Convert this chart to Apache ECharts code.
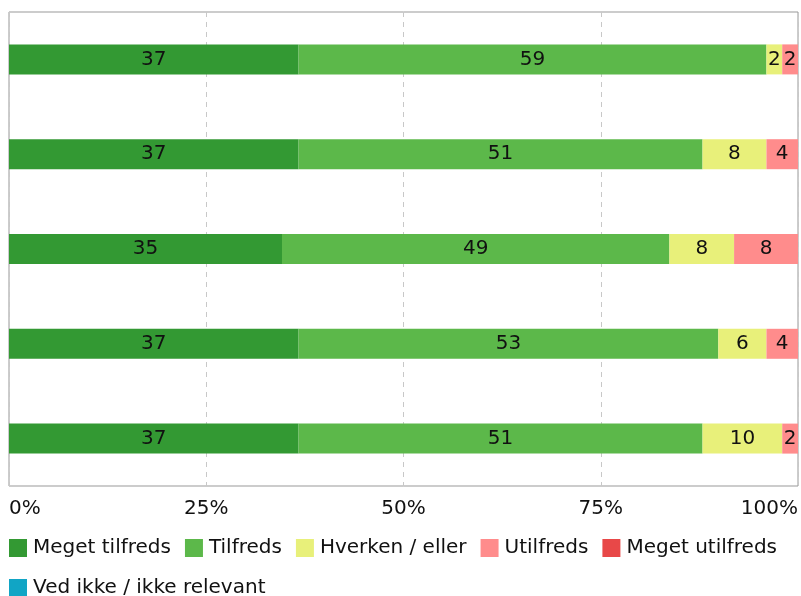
<!DOCTYPE html>
<html>
<head>
<meta charset="utf-8">
<script src="https://cdn.jsdelivr.net/npm/echarts@6/dist/echarts.min.js"></script>
<style>html,body{margin:0;padding:0;background:#fff;}#c{width:801px;height:596px;}</style>
</head>
<body>
<div id="c"></div>
<script>
const categories = ['1', '2', '3', '4', '5'];
const seriesNames = ['Meget tilfreds', 'Tilfreds', 'Hverken / eller', 'Utilfreds', 'Meget utilfreds', 'Ved ikke / ikke relevant'];
const megetTilfreds = [36.7, 36.7, 34.6, 36.7, 36.7];
const tilfreds = [59.3, 51.2, 49.1, 53.2, 51.2];
const hverken = [2.0, 8.1, 8.2, 6.1, 10.1];
const utilfreds = [2.0, 4.0, 8.1, 4.0, 2.0];
const megetUtilfreds = [0, 0, 0, 0, 0];
const vedIkke = [0, 0, 0, 0, 0];
const tickLabels = ['0%', '25%', '50%', '75%', '100%'];
const colors = ['#339933', '#5cb84a', '#e8f07a', '#ff8c8c', '#e84848', '#11a5c5'];

const allData = [megetTilfreds, tilfreds, hverken, utilfreds, megetUtilfreds, vedIkke];
const font = 'DejaVu Sans, Verdana, sans-serif';
const fs = 20;

const chart = echarts.init(document.getElementById('c'));
chart.setOption({
  animation: false,
  color: colors,
  grid: { left: 9, right: 1, top: 12, bottom: 110, show: true, borderColor: '#999', borderWidth: 1, containLabel: false },
  xAxis: {
    type: 'value', min: 0, max: 100, interval: 25,
    axisLine: { show: false }, axisTick: { show: false },
    splitLine: { show: true, lineStyle: { type: [5, 5], color: '#c8c8c8' } },
    axisLabel: {
      formatter: (v) => tickLabels[Math.round(v / 25)],
      fontFamily: font, fontSize: fs, color: '#111', margin: 13,
      alignMinLabel: 'left', alignMaxLabel: 'right'
    }
  },
  yAxis: {
    type: 'category', data: categories, inverse: true,
    axisLine: { show: false }, axisTick: { show: false }, axisLabel: { show: false }
  },
  legend: [
    {
      data: seriesNames.slice(0, 5), left: 9, top: 538, itemWidth: 18, itemHeight: 18, itemGap: 14,
      icon: 'rect', textStyle: { fontFamily: font, fontSize: fs, color: '#111', padding: [0, 0, 0, 1] }, padding: 0
    },
    {
      data: seriesNames.slice(5), left: 9, top: 578, itemWidth: 18, itemHeight: 18, itemGap: 14,
      icon: 'rect', textStyle: { fontFamily: font, fontSize: fs, color: '#111', padding: [0, 0, 0, 1] }, padding: 0
    }
  ],
  series: seriesNames.map((name, i) => ({
    name, type: 'bar', stack: 'total', barWidth: 30,
    data: allData[i],
    itemStyle: { color: colors[i] },
    label: {
      show: true, position: 'inside', fontFamily: font, fontSize: fs, color: '#111',
      formatter: (p) => p.value > 0 ? String(Math.round(p.value)) : ''
    }
  }))
});
</script>
</body>
</html>
